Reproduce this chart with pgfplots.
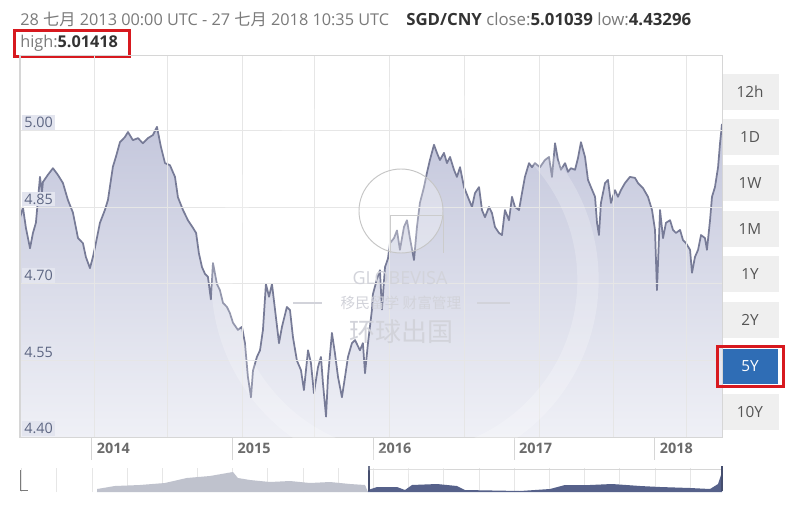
\documentclass[border=0pt]{standalone}
\usepackage{pgfplots}
\pgfplotsset{compat=1.18}
\usepackage{pgfplotstable}
\usepackage{fontspec}
\setmainfont{Open Sans}
\newfontfamily\cjk{Noto Sans CJK SC}

\definecolor{hdr}{HTML}{7A7A7A}
\definecolor{hdrb}{HTML}{333333}
\definecolor{gridc}{HTML}{E6E6E6}
\definecolor{axisc}{HTML}{D6D6D6}
\definecolor{lineC}{HTML}{777B97}
\definecolor{fillTop}{HTML}{C4C7DC}
\definecolor{fillBot}{HTML}{EFF0F6}
\definecolor{lblbg}{HTML}{E3E5EF}
\definecolor{lblc}{HTML}{5D6683}
\definecolor{yearc}{HTML}{6B6B6B}
\definecolor{btn}{HTML}{EFEFEF}
\definecolor{btntxt}{HTML}{555555}
\definecolor{blueB}{HTML}{2F6DB5}
\definecolor{redc}{HTML}{D7191F}
\definecolor{navgrey}{HTML}{BFC2CD}
\definecolor{navblue}{HTML}{56618A}
\definecolor{wm}{HTML}{D2D3DA}

\pgfplotstableread{
x y
2013.489 4.830
2013.510 4.850
2013.531 4.810
2013.560 4.770
2013.581 4.800
2013.602 4.820
2013.631 4.910
2013.645 4.880
2013.652 4.900
2013.687 4.914
2013.723 4.927
2013.758 4.914
2013.794 4.898
2013.829 4.865
2013.865 4.840
2013.901 4.790
2013.936 4.780
2013.957 4.753
2013.986 4.731
2014.007 4.753
2014.028 4.780
2014.057 4.820
2014.092 4.845
2014.114 4.865
2014.149 4.930
2014.171 4.950
2014.199 4.978
2014.234 4.988
2014.256 4.998
2014.291 4.982
2014.327 4.986
2014.362 4.976
2014.398 4.986
2014.433 4.992
2014.462 5.008
2014.490 4.969
2014.519 4.937
2014.554 4.933
2014.590 4.910
2014.611 4.870
2014.647 4.845
2014.682 4.825
2014.718 4.810
2014.740 4.800
2014.760 4.760
2014.782 4.733
2014.803 4.720
2014.824 4.714
2014.845 4.670
2014.860 4.741
2014.888 4.700
2014.909 4.688
2014.931 4.663
2014.959 4.655
2014.980 4.643
2015.002 4.624
2015.037 4.610
2015.066 4.616
2015.087 4.584
2015.108 4.518
2015.130 4.478
2015.144 4.530
2015.172 4.557
2015.194 4.570
2015.215 4.610
2015.236 4.700
2015.258 4.675
2015.279 4.700
2015.307 4.635
2015.329 4.584
2015.350 4.616
2015.385 4.655
2015.407 4.649
2015.428 4.596
2015.456 4.550
2015.485 4.531
2015.506 4.492
2015.535 4.570
2015.556 4.545
2015.577 4.486
2015.606 4.537
2015.627 4.557
2015.641 4.506
2015.663 4.440
2015.677 4.518
2015.705 4.604
2015.726 4.565
2015.748 4.518
2015.776 4.478
2015.798 4.518
2015.819 4.557
2015.847 4.584
2015.869 4.590
2015.904 4.570
2015.925 4.584
2015.940 4.525
2015.961 4.584
2015.989 4.649
2015.996 4.680
2016.025 4.710
2016.046 4.727
2016.060 4.650
2016.082 4.733
2016.103 4.750
2016.117 4.780
2016.146 4.790
2016.167 4.805
2016.188 4.767
2016.217 4.812
2016.238 4.825
2016.259 4.790
2016.288 4.747
2016.309 4.812
2016.330 4.859
2016.359 4.890
2016.380 4.918
2016.401 4.943
2016.430 4.973
2016.451 4.957
2016.472 4.943
2016.501 4.957
2016.522 4.937
2016.544 4.949
2016.572 4.924
2016.593 4.910
2016.615 4.929
2016.643 4.890
2016.679 4.865
2016.700 4.851
2016.721 4.878
2016.750 4.890
2016.771 4.845
2016.792 4.831
2016.821 4.851
2016.842 4.839
2016.863 4.812
2016.892 4.800
2016.913 4.796
2016.934 4.845
2016.963 4.825
2016.984 4.871
2017.005 4.851
2017.034 4.845
2017.055 4.878
2017.076 4.910
2017.105 4.937
2017.126 4.929
2017.147 4.937
2017.183 4.929
2017.218 4.943
2017.247 4.949
2017.268 4.910
2017.290 4.976
2017.311 4.943
2017.332 4.924
2017.361 4.937
2017.382 4.920
2017.403 4.927
2017.432 4.924
2017.453 4.947
2017.474 4.978
2017.503 4.949
2017.524 4.904
2017.545 4.890
2017.574 4.871
2017.588 4.820
2017.602 4.796
2017.616 4.859
2017.645 4.898
2017.666 4.904
2017.687 4.859
2017.716 4.884
2017.737 4.871
2017.758 4.884
2017.787 4.898
2017.822 4.910
2017.858 4.908
2017.879 4.898
2017.915 4.888
2017.950 4.871
2017.979 4.845
2018.000 4.806
2018.014 4.688
2018.036 4.845
2018.057 4.790
2018.078 4.820
2018.107 4.825
2018.128 4.806
2018.149 4.800
2018.178 4.806
2018.199 4.786
2018.220 4.780
2018.249 4.767
2018.263 4.722
2018.284 4.753
2018.306 4.767
2018.327 4.796
2018.355 4.790
2018.369 4.767
2018.391 4.825
2018.405 4.871
2018.426 4.890
2018.448 4.929
2018.462 4.976
2018.476 5.014
}\rates

\pgfplotstableread{
x y
2014.036 0
2014.037 3
2014.163 6
2014.341 7
2014.518 9
2014.674 14
2014.838 16
2015.002 20
2015.037 14
2015.123 12
2015.265 10
2015.407 11
2015.549 9
2015.691 10
2015.833 8
2015.940 7
2015.961 0
}\navgrey

\pgfplotstableread{
x y
2015.961 0
2015.962 2
2016.025 5
2016.167 5
2016.224 2
2016.274 7
2016.451 8
2016.593 6
2016.650 2
2017.041 1
2017.254 3
2017.361 7
2017.538 7
2017.695 8
2017.894 6
2018.036 5
2018.249 4
2018.391 3
2018.448 8
2018.476 20
2018.476 0
}\navblue

\begin{document}
\begin{tikzpicture}
\begin{scope}[x=0.75pt,y=-0.75pt]
\path[use as bounding box, fill=white] (0,0) rectangle (800,510);
% header
\node[anchor=west, inner sep=0pt, text=hdr, font=\fontsize{12.2}{14}\selectfont] at (20,19)
  {28 {\cjk 七月} 2013 00:00 UTC - 27 {\cjk 七月} 2018 10:35 UTC};
\node[anchor=west, inner sep=0pt, text=hdrb, font=\fontsize{12.6}{14}\selectfont] at (406,19)
  {\textbf{SGD/CNY} {\color{hdr}close:}\textbf{5.01039} {\color{hdr}low:}\textbf{4.43296}};
\node[anchor=west, inner sep=0pt, text=hdrb, font=\fontsize{12.2}{14}\selectfont] at (20,43)
  {{\color{hdr}high:}\textbf{5.01418}};
\draw[redc, line width=2.25pt] (14,31) rectangle (129,57);
\end{scope}

% main axis  (pixel box x 20..722, y 55..437)
\begin{axis}[
  at={(15pt,-327.75pt)}, anchor=south west,
  scale only axis, width=526.5pt, height=286.5pt,
  xmin=2013.489, xmax=2018.476, ymin=4.40, ymax=5.149,
  xtick={2014.021,2014.540,2015.073,2015.584,2016.117,2016.650,2017.183,2017.702,2018.227},
  ytick={4.55,4.70,4.85,5.00},
  xticklabels={}, yticklabels={},
  major tick length=0pt,
  grid=major, grid style={draw=gridc, line width=0.75pt},
  axis line style={draw=axisc, line width=0.75pt},
  axis on top,
  clip mode=individual,
]
\addplot[draw=none, top color=fillTop, bottom color=fillBot] table[x=x,y=y]{\rates}
  -- (axis cs:2018.476,4.40) -- (axis cs:2013.489,4.40) -- cycle;
\addplot[lineC, line width=1.3pt, line join=round] table[x=x,y=y]{\rates};
% y labels inside
\pgfplotsinvokeforeach{4.40,4.55,4.70,4.85,5.00}{
  \node[anchor=south west, fill=lblbg, inner sep=1.6pt, text=lblc,
        font=\fontsize{10.8}{11}\selectfont, xshift=1.5pt, yshift=0.6pt]
        at (axis cs:2013.489,#1) {#1};
}
% year labels
\pgfplotsinvokeforeach{2014,2015,2016,2017,2018}{
  \draw[axisc, line width=0.75pt] (axis cs:#1,4.40) -- ++(0pt,-17pt);
  \node[anchor=north west, inner sep=0pt, text=yearc, font=\bfseries\fontsize{10.8}{11}\selectfont,
        xshift=3.5pt, yshift=-4.5pt] at (axis cs:#1,4.40) {#1};
}
\end{axis}

% navigator (pixel box x 20..722, y 468..492)
\begin{axis}[
  at={(15pt,-369pt)}, anchor=south west,
  scale only axis, width=526.5pt, height=18pt,
  xmin=2013.489, xmax=2018.476, ymin=0, ymax=24,
  xtick={2013.5,2013.75,...,2018.3}, ytick=\empty,
  xticklabels={}, major tick length=0pt,
  xmajorgrids, grid style={draw=gridc, line width=0.6pt},
  axis line style={draw=none},
]
\addplot[draw=none, fill=navgrey] table[x=x,y=y]{\navgrey} -- cycle;
\addplot[draw=none, fill=navblue] table[x=x,y=y]{\navblue} -- cycle;
\end{axis}

\begin{scope}[x=0.75pt,y=-0.75pt]
\draw[axisc, line width=0.75pt] (368,469) -- (722,469);
\draw[hdr, line width=0.75pt] (20,470) -- (20,490) -- (28,490);
\draw[navblue!80!black, line width=1.5pt] (369,466) -- (369,491);
\draw[navblue!80!black, line width=1.5pt] (722,466) -- (722,491);

% watermark
\draw[white, opacity=0.22, line width=16pt] (405,280) circle (183);
\draw[gray!45, line width=0.7pt, fill=white, fill opacity=0.3] (401,211) circle (42);
\draw[gray!40, line width=0.7pt] (390,253) -- (390,215) -- (443,215) -- (443,253);
\node[text=wm, font=\fontsize{13.5}{14}\selectfont] at (400,278) {GLOBEVISA};
\draw[wm, line width=0.8pt] (293,303) -- (322,303);
\draw[wm, line width=0.8pt] (477,303) -- (510,303);
\node[text=wm, font=\cjk\fontsize{11}{12}\selectfont] at (401,303) {移民留学 财富管理};
\node[text=wm, font=\cjk\fontsize{19.5}{20}\selectfont] at (401,332) {环球出国};

% range buttons
\foreach \lab/\yc in {12h/92,1D/137,1W/183,1M/229,1Y/274,2Y/320,10Y/412}{
  \fill[btn] (723,\yc-18) rectangle (779,\yc+18);
  \node[text=btntxt, font=\fontsize{11.5}{13}\selectfont] at (750,\yc) {\lab};
}
\fill[blueB] (723,349) rectangle (778,384);
\node[text=white, font=\fontsize{11.5}{13}\selectfont] at (750,366) {5Y};
\draw[redc, line width=2.25pt] (717,346) rectangle (783,386);
\end{scope}
\end{tikzpicture}
\end{document}
